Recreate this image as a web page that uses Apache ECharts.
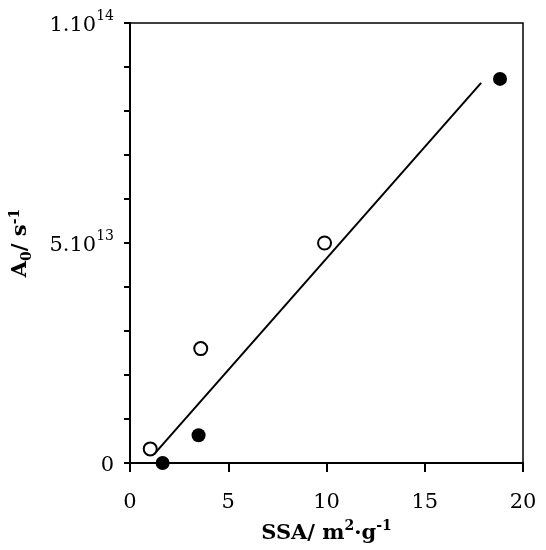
<!DOCTYPE html>
<html>
<head>
<meta charset="utf-8">
<script src="https://cdn.jsdelivr.net/npm/echarts@6/dist/echarts.min.js"></script>
<style>html,body{margin:0;padding:0;background:#fff}#c{width:546px;height:550px}</style>
</head>
<body>
<div id="c"></div>
<script>
// Data
const openSSA = [1.03, 3.6, 9.9];
const openA0 = [0.32e13, 2.6e13, 5.0e13];
const filledSSA = [1.66, 3.49, 18.83];
const filledA0 = [0.0, 0.63e13, 8.73e13];
const fitSSA = [1.23, 17.87];
const fitA0 = [0.2e13, 8.64e13];
const xTicks = [0, 5, 10, 15, 20];
const yTickLabels = { 0: ['0', ''], 5e13: ['5.10', '13'], 1e14: ['1.10', '14'] };

const FONT = 'DejaVu Serif';
const zip = (a, b) => a.map((v, i) => [v, b[i]]);

const chart = echarts.init(document.getElementById('c'));
chart.setOption({
  animation: false,
  backgroundColor: '#fff',
  grid: { left: 129, right: 23, top: 23, bottom: 87, show: true, borderColor: '#000', borderWidth: 1.5, backgroundColor: 'transparent' },
  xAxis: {
    type: 'value', min: xTicks[0], max: xTicks[xTicks.length - 1], interval: 5,
    axisLine: { lineStyle: { color: '#000', width: 2 } },
    axisTick: { show: true, length: 9, lineStyle: { color: '#000', width: 2 } },
    splitLine: { show: false },
    axisLabel: { color: '#000', fontFamily: FONT, fontSize: 21, margin: 29 },
    name: '{m|SSA/ m}{s|2}{m|·g}{s|-1}', nameLocation: 'middle', nameGap: 56,
    nameTextStyle: {
      rich: {
        m: { fontFamily: FONT, fontWeight: 'bold', fontSize: 21, color: '#000', lineHeight: 25, verticalAlign: 'bottom' },
        s: { fontFamily: FONT, fontWeight: 'bold', fontSize: 14, color: '#000', lineHeight: 25, verticalAlign: 'top' }
      }
    }
  },
  yAxis: {
    type: 'value', min: 0, max: 1e14, interval: 1e13,
    axisLine: { lineStyle: { color: '#000', width: 2 } },
    axisTick: { show: true, length: 6, lineStyle: { color: '#000', width: 2 } },
    splitLine: { show: false },
    axisLabel: {
      margin: 16,
      formatter: (v) => {
        const t = yTickLabels[v];
        if (!t) return '';
        return t[1] ? '{m|' + t[0] + '}{s|' + t[1] + '}' : '{m|' + t[0] + '}';
      },
      rich: {
        m: { fontFamily: FONT, fontSize: 21, color: '#000', lineHeight: 27, verticalAlign: 'bottom' },
        s: { fontFamily: FONT, fontSize: 14, color: '#000', lineHeight: 27, verticalAlign: 'top' }
      }
    },
    name: '{m|A}{b|0}{m|/ s}{s|-1}', nameLocation: 'middle', nameGap: 96, nameRotate: 90,
    nameTextStyle: {
      rich: {
        m: { fontFamily: FONT, fontWeight: 'bold', fontSize: 21, color: '#000', lineHeight: 26, verticalAlign: 'middle' },
        b: { fontFamily: FONT, fontWeight: 'bold', fontSize: 14, color: '#000', lineHeight: 26, verticalAlign: 'bottom' },
        s: { fontFamily: FONT, fontWeight: 'bold', fontSize: 14, color: '#000', lineHeight: 26, verticalAlign: 'top' }
      }
    }
  },
  series: [
    {
      type: 'line', data: zip(fitSSA, fitA0), symbol: 'none', silent: true,
      lineStyle: { color: '#000', width: 2 }, z: 2
    },
    {
      type: 'scatter', data: zip(openSSA, openA0), symbol: 'circle', symbolSize: 13,
      itemStyle: { color: '#fff', borderColor: '#000', borderWidth: 2, opacity: 1 }, z: 3
    },
    {
      type: 'scatter', data: zip(filledSSA, filledA0), symbol: 'circle', symbolSize: 14,
      itemStyle: { color: '#000', opacity: 1 }, z: 3
    }
  ]
});
</script>
</body>
</html>
